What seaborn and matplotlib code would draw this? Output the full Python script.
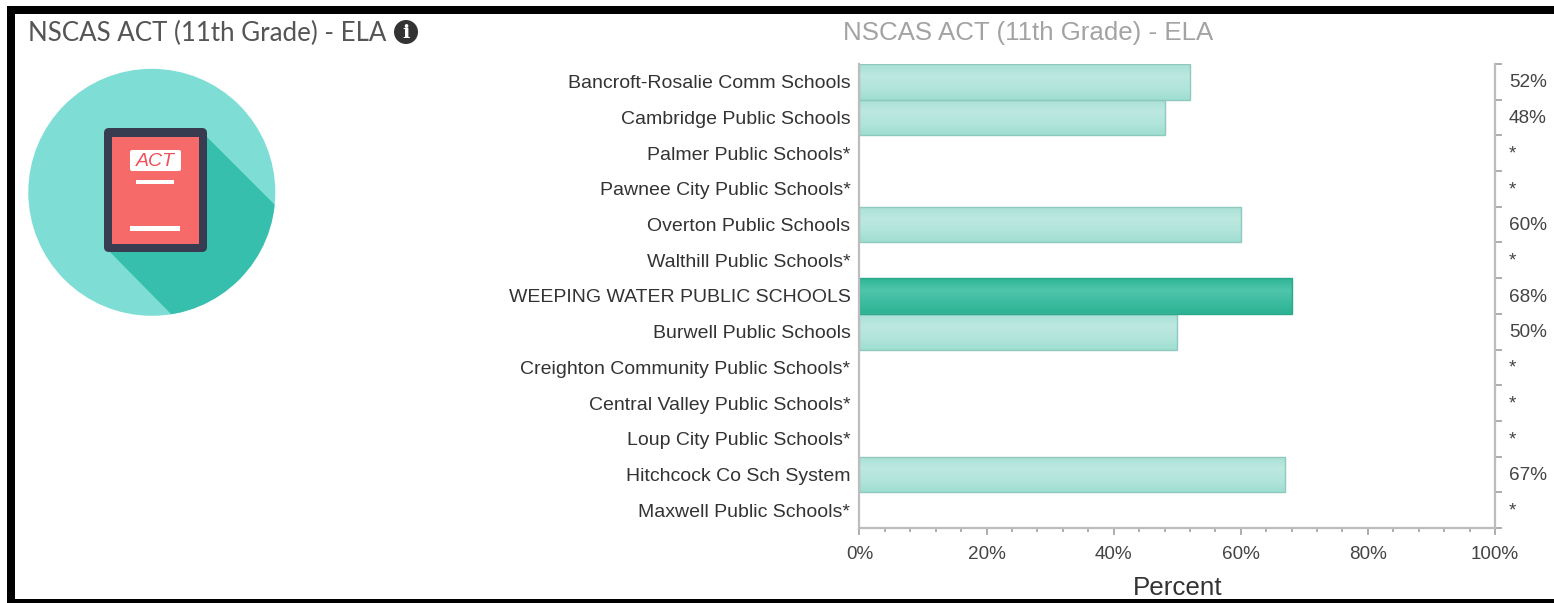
import numpy as np
import pandas as pd
import matplotlib.pyplot as plt
import seaborn as sns
from matplotlib.colors import LinearSegmentedColormap
from matplotlib.patches import Circle, FancyBboxPatch, Polygon, Rectangle
from matplotlib.ticker import FixedLocator, MultipleLocator

districts = [
    "Bancroft-Rosalie Comm Schools", "Cambridge Public Schools", "Palmer Public Schools*",
    "Pawnee City Public Schools*", "Overton Public Schools", "Walthill Public Schools*",
    "WEEPING WATER PUBLIC SCHOOLS", "Burwell Public Schools", "Creighton Community Public Schools*",
    "Central Valley Public Schools*", "Loup City Public Schools*", "Hitchcock Co Sch System",
    "Maxwell Public Schools*",
]
percent = [52, 48, np.nan, np.nan, 60, np.nan, 68, 50, np.nan, np.nan, np.nan, 67, np.nan]
highlight = "WEEPING WATER PUBLIC SCHOOLS"
x_ticks = [0, 20, 40, 60, 80, 100]

df = pd.DataFrame({"district": districts, "percent": percent})
df["kind"] = ["main" if d == highlight else "other" for d in districts]

sns.set_theme(style="white")
plt.rcParams["font.family"] = ["Liberation Sans", "DejaVu Sans"]

W, H = 1554, 603
fig = plt.figure(figsize=(W / 100, H / 100), dpi=100, facecolor="white")

# pixel canvas for the frame, icon and titles
bg = fig.add_axes([0, 0, 1, 1], zorder=0)
bg.set_xlim(0, W)
bg.set_ylim(H, 0)
bg.axis("off")

ax = fig.add_axes([859.5 / W, 1 - 528 / H, (1495 - 859.5) / W, (528 - 64) / H], zorder=1)
ax.patch.set_alpha(0)

sns.barplot(data=df, y="district", x="percent", hue="kind", dodge=False, width=1.0,
            palette={"main": "#3cbfa3", "other": "#b5e6dc"}, legend=False, ax=ax)

light = LinearSegmentedColormap.from_list("light", ["#a9e1d6", "#bce8e0", "#b2e5db", "#a0ded2"])
dark = LinearSegmentedColormap.from_list("dark", ["#2fb596", "#4fc5ac", "#3dbca1", "#2db293"])
grad = np.linspace(0, 1, 64).reshape(-1, 1)

for bar in ax.patches:
    if not bar.get_width() > 0:
        continue
    row = int(round(bar.get_y() + bar.get_height() / 2))
    is_main = districts[row] == highlight
    top, bottom = bar.get_y(), bar.get_y() + bar.get_height()
    img = ax.imshow(grad, cmap=dark if is_main else light, aspect="auto", zorder=0.5,
                    extent=(0, bar.get_width(), bottom, top), origin="upper")
    img.set_clip_path(bar)
    bar.set_facecolor("none")
    bar.set_edgecolor("#2aa98c" if is_main else "#8fc9bd")
    bar.set_linewidth(1.0)
    bar.set_zorder(2)

ax.set_xlim(0, 100)
ax.set_ylim(len(districts) - 0.5, -0.5)

for s in ["left", "bottom", "right"]:
    ax.spines[s].set_visible(True)
    ax.spines[s].set_color("#bdbdbd")
    ax.spines[s].set_linewidth(1.6)
ax.spines["top"].set_visible(False)

ax.set_xticks(x_ticks)
ax.set_xticklabels([f"{v}%" for v in x_ticks])
ax.xaxis.set_minor_locator(MultipleLocator(4))
ax.tick_params(axis="x", which="major", bottom=True, length=5, width=1.2, color="#a0a0a0",
               labelsize=13.6, labelcolor="#444444", pad=8)
ax.tick_params(axis="x", which="minor", bottom=True, length=3, width=1.2, color="#a0a0a0")

ax.yaxis.set_minor_locator(FixedLocator(np.arange(len(districts) + 1) - 0.5))
ax.tick_params(axis="y", which="major", left=False, length=0, labelsize=14,
               labelcolor="#333333", pad=6.5)
ax.tick_params(axis="y", which="minor", left=False, right=True, length=5, width=1.2, color="#a0a0a0")

ax.set_ylabel("")
ax.set_xlabel("Percent", fontsize=18.7, color="#333333", labelpad=9)

# value column right of the axis, same baseline for numbers and asterisks
for i, v in enumerate(percent):
    label = "*" if np.isnan(v) else f"{v:.0f}%"
    ax.annotate(label, xy=(100, i), xycoords="data", xytext=(10, -4), textcoords="offset points",
                ha="left", va="baseline", fontsize=13.7, color="#444444", annotation_clip=False)

# titles
bg.text(28, 33, "NSCAS ACT (11th Grade) - ELA", family="Lato", fontsize=18.65, color="#555555",
        ha="left", va="center")
bg.text(1028.5, 33, "NSCAS ACT (11th Grade) - ELA", fontsize=18.65, color="#a3a3a3",
        ha="center", va="center")
bg.add_patch(Circle((406, 32), 12, color="#333333", lw=0))
bg.text(406, 32.5, "i", family="DejaVu Serif", weight="bold", fontsize=14, color="white",
        ha="center", va="center")

# frame
bg.add_patch(Rectangle((7, 6), W - 7, 8, color="black", lw=0))
bg.add_patch(Rectangle((7, 6), 7.5, H - 6, color="black", lw=0))
bg.add_patch(Rectangle((7, 599), W - 7, 4, color="black", lw=0))

# icon
disc = Circle((151.8, 192.3), 123.5, color="#7eddd4", lw=0)
bg.add_patch(disc)
shadow = Polygon([(205, 135), (285, 215), (290, 330), (171, 330), (171, 314), (108, 250)],
                 closed=True, color="#37bfae", lw=0)
bg.add_patch(shadow)
shadow.set_clip_path(disc)
bg.add_patch(FancyBboxPatch((107, 131), 97, 118, boxstyle="round,pad=3,rounding_size=5",
                            color="#383c50", lw=0))
bg.add_patch(Rectangle((112, 137), 87, 107, color="#f76a6a", lw=0))
bg.add_patch(FancyBboxPatch((131, 151), 49, 19, boxstyle="round,pad=1,rounding_size=2",
                            color="white", lw=0))
bg.text(155, 161, "ACT", style="italic", fontsize=14, color="#f0505a", ha="center", va="center")
bg.add_patch(Rectangle((136, 180), 38, 3.5, color="white", lw=0))
bg.add_patch(Rectangle((130, 226), 50, 4.5, color="white", lw=0))

fig.savefig("out.png", dpi=100)
plt.close()
